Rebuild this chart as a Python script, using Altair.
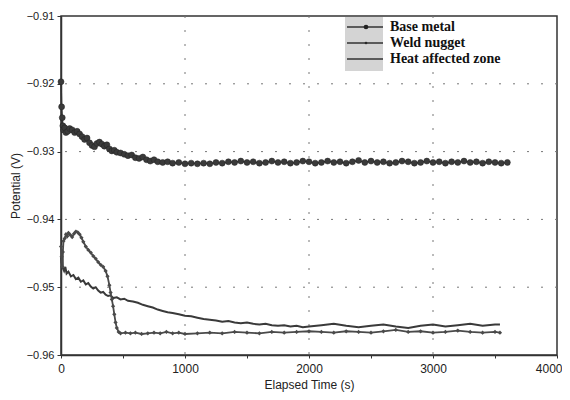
import altair as alt
import pandas as pd

# ---------------- data ----------------
series_names = ["Base metal", "Weld nugget", "Heat affected zone"]

base_t = [0, 5, 10, 15, 20, 30, 40, 55, 70, 90, 110, 130, 150, 170, 190, 210, 230, 250, 270, 290,
          310, 330, 350, 370, 390, 410, 430, 450, 480, 510, 540, 570, 600, 630, 660, 690, 720, 750,
          780, 820, 860, 900, 950, 1000, 1050, 1100, 1150, 1200, 1250, 1300, 1350, 1400, 1450, 1500,
          1550, 1600, 1650, 1700, 1750, 1800, 1850, 1900, 1950, 2000, 2050, 2100, 2150, 2200, 2250,
          2300, 2350, 2400, 2450, 2500, 2550, 2600, 2650, 2700, 2750, 2800, 2850, 2900, 2950, 3000,
          3050, 3100, 3150, 3200, 3250, 3300, 3350, 3400, 3450, 3500, 3550, 3600]
base_v = [-0.9197, -0.9234, -0.9250, -0.9262, -0.9268, -0.9265, -0.9272, -0.9270, -0.9266, -0.9268,
          -0.9272, -0.9270, -0.9274, -0.9278, -0.9282, -0.9280, -0.9287, -0.9291, -0.9293, -0.9288,
          -0.9286, -0.9289, -0.9292, -0.9290, -0.9296, -0.9299, -0.9298, -0.9301, -0.9302, -0.9304,
          -0.9306, -0.9305, -0.9309, -0.9310, -0.9308, -0.9312, -0.9314, -0.9312, -0.9315, -0.9316,
          -0.9315, -0.9317, -0.9316, -0.9318, -0.9317, -0.9318, -0.9317, -0.9318, -0.9316, -0.9317,
          -0.9315, -0.9316, -0.9314, -0.9316, -0.9315, -0.9317, -0.9316, -0.9314, -0.9316, -0.9315,
          -0.9317, -0.9316, -0.9314, -0.9315, -0.9317, -0.9316, -0.9314, -0.9316, -0.9315, -0.9317,
          -0.9315, -0.9313, -0.9316, -0.9314, -0.9316, -0.9315, -0.9317, -0.9316, -0.9314, -0.9315,
          -0.9317, -0.9316, -0.9314, -0.9316, -0.9315, -0.9317, -0.9315, -0.9316, -0.9314, -0.9316,
          -0.9315, -0.9317, -0.9315, -0.9316, -0.9317, -0.9316]

weld_t = [0, 5, 10, 15, 20, 30, 40, 50, 60, 75, 90, 105, 120, 135, 150, 165, 180, 200, 220, 240,
          260, 280, 300, 320, 340, 360, 375, 390, 400, 410, 420, 430, 440, 450, 465, 480, 520, 560,
          600, 650, 700, 750, 800, 850, 900, 950, 1000, 1100, 1200, 1300, 1400, 1500, 1600, 1700,
          1800, 1900, 2000, 2100, 2200, 2300, 2400, 2500, 2600, 2700, 2800, 2900, 3000, 3100, 3200,
          3300, 3400, 3500, 3540]
weld_v = [-0.9440, -0.9455, -0.9470, -0.9448, -0.9432, -0.9428, -0.9422, -0.9425, -0.9420, -0.9423,
          -0.9426, -0.9421, -0.9418, -0.9419, -0.9422, -0.9427, -0.9433, -0.9440, -0.9445, -0.9449,
          -0.9454, -0.9458, -0.9463, -0.9467, -0.9470, -0.9476, -0.9484, -0.9497, -0.9508, -0.9518,
          -0.9528, -0.9540, -0.9552, -0.9560, -0.9566, -0.9568, -0.9567, -0.9568, -0.9567, -0.9569,
          -0.9568, -0.9567, -0.9568, -0.9566, -0.9568, -0.9567, -0.9569, -0.9568, -0.9567, -0.9568,
          -0.9566, -0.9567, -0.9568, -0.9566, -0.9567, -0.9566, -0.9565, -0.9566, -0.9567, -0.9565,
          -0.9566, -0.9567, -0.9565, -0.9563, -0.9566, -0.9565, -0.9567, -0.9566, -0.9564, -0.9566,
          -0.9567, -0.9566, -0.9567]

haz_t = [0, 5, 10, 15, 25, 35, 45, 60, 80, 100, 120, 140, 160, 180, 200, 220, 240, 260, 280, 300,
         320, 340, 360, 380, 400, 420, 450, 480, 510, 540, 580, 620, 660, 700, 740, 780, 820, 860,
         900, 950, 1000, 1050, 1100, 1150, 1200, 1250, 1300, 1350, 1400, 1450, 1500, 1550, 1600,
         1650, 1700, 1750, 1800, 1850, 1900, 1950, 2000, 2100, 2200, 2300, 2400, 2500, 2600, 2700,
         2800, 2900, 3000, 3100, 3200, 3300, 3400, 3500, 3540]
haz_v = [-0.9455, -0.9465, -0.9448, -0.9472, -0.9476, -0.9470, -0.9480, -0.9477, -0.9484, -0.9482,
         -0.9488, -0.9486, -0.9492, -0.9490, -0.9496, -0.9494, -0.9499, -0.9502, -0.9500, -0.9505,
         -0.9508, -0.9507, -0.9511, -0.9513, -0.9512, -0.9516, -0.9515, -0.9518, -0.9517, -0.9520,
         -0.9521, -0.9523, -0.9526, -0.9528, -0.9530, -0.9533, -0.9535, -0.9537, -0.9538, -0.9540,
         -0.9542, -0.9543, -0.9545, -0.9547, -0.9548, -0.9549, -0.9551, -0.9550, -0.9552, -0.9553,
         -0.9552, -0.9554, -0.9555, -0.9554, -0.9556, -0.9557, -0.9556, -0.9558, -0.9557, -0.9559,
         -0.9558, -0.9556, -0.9554, -0.9557, -0.9559, -0.9557, -0.9555, -0.9558, -0.9560, -0.9557,
         -0.9555, -0.9558, -0.9556, -0.9554, -0.9557, -0.9555, -0.9555]

x_ticks = [0, 500, 1000, 1500, 2000, 2500, 3000, 3500, 4000]
y_ticks = [-0.96, -0.955, -0.95, -0.945, -0.94, -0.935, -0.93, -0.925, -0.92, -0.915, -0.91]
x_grid = [1000, 2000, 3000]
y_grid = [-0.92, -0.93, -0.94, -0.95]

# ---------------- chart ----------------
FONT = "Liberation Sans"
W, H = 496, 339

xs = alt.Scale(domain=[0, 4000], nice=False, zero=False)
ys = alt.Scale(domain=[-0.96, -0.91], nice=False, zero=False)

x_axis = alt.Axis(values=x_ticks, grid=False, title="Elapsed Time (s)",
                  labelExpr="datum.value % 1000 == 0 ? datum.value : ''",
                  labelAlign={"condition": {"test": "datum.value == 4000", "value": "right"}, "value": "center"},
                  labelOffset={"condition": {"test": "datum.value == 4000", "value": 5}, "value": 0},
                  labelFont=FONT, labelFontSize=12, labelColor="#222",
                  titleFont=FONT, titleFontSize=12, titleFontWeight="normal", titleColor="#222",
                  domainColor="#333", domainWidth=1.5, tickColor="#333", tickSize=3,
                  labelPadding=5, titlePadding=5, labelFlush=False)
y_axis = alt.Axis(values=y_ticks, grid=False, title="Potential (V)",
                  labelExpr="abs(datum.value*100 - round(datum.value*100)) < 0.001 ? format(datum.value, '.2f') : ''",
                  labelFont=FONT, labelFontSize=11, labelColor="#222",
                  titleFont=FONT, titleFontSize=12, titleFontWeight="normal", titleColor="#222",
                  domainColor="#333", domainWidth=1.5, tickColor="#333", tickSize=4,
                  labelPadding=3, titlePadding=4, labelFlush=False)

base_df = pd.DataFrame({"t": base_t, "v": base_v})
weld_df = pd.DataFrame({"t": weld_t, "v": weld_v})
haz_df = pd.DataFrame({"t": haz_t, "v": haz_v})

axes_layer = alt.Chart(base_df).mark_point(opacity=0).encode(
    x=alt.X("t:Q", scale=xs, axis=x_axis),
    y=alt.Y("v:Q", scale=ys, axis=y_axis),
)

gx = alt.Chart(pd.DataFrame({"t": x_grid})).mark_rule(
    color="#777", strokeWidth=1, strokeDash=[2, 12]).encode(x=alt.X("t:Q", scale=xs))
gy = alt.Chart(pd.DataFrame({"v": y_grid})).mark_rule(
    color="#777", strokeWidth=1, strokeDash=[2, 12]).encode(y=alt.Y("v:Q", scale=ys))

def enc(ch):
    return ch.encode(x=alt.X("t:Q", scale=xs), y=alt.Y("v:Q", scale=ys))

haz_line = enc(alt.Chart(haz_df).mark_line(color="#3a3a3a", strokeWidth=2))
weld_line = enc(alt.Chart(weld_df).mark_line(color="#4a4a4a", strokeWidth=1.8))
weld_pts = enc(alt.Chart(weld_df).mark_point(shape="diamond", filled=True, size=18, color="#4a4a4a", opacity=1))
base_line = enc(alt.Chart(base_df).mark_line(color="#333", strokeWidth=1.5))
base_pts = enc(alt.Chart(base_df).mark_point(shape="circle", filled=True, size=36, color="#3a3a3a",
                                             stroke="#222", strokeWidth=0.5, opacity=1))

# legend (positions in pixels of the plot area)
one = pd.DataFrame({"a": [0]})
leg_layers = [
    alt.Chart(one).mark_rect(color="#d4d4d4").encode(
        x=alt.value(284), x2=alt.value(322), y=alt.value(1), y2=alt.value(55))
]
row_y = [11, 27, 43]
marks = [("circle", 22), ("diamond", 10), (None, 0)]
for name, yy, (shp, sz) in zip(series_names, row_y, marks):
    leg_layers.append(alt.Chart(one).mark_rule(color="#333", strokeWidth=1.3).encode(
        x=alt.value(286), x2=alt.value(322), y=alt.value(yy)))
    if shp:
        leg_layers.append(alt.Chart(one).mark_point(shape=shp, filled=True, size=sz, color="#222",
                                                    opacity=1).encode(
            x=alt.value(305), y=alt.value(yy)))
    leg_layers.append(alt.Chart(pd.DataFrame({"label": [name]})).mark_text(
        align="left", baseline="middle", font="Liberation Serif", fontWeight="bold",
        fontSize=14, color="#111").encode(
        x=alt.value(329), y=alt.value(yy), text="label:N"))

chart = alt.layer(axes_layer, gx, gy, haz_line, weld_line, weld_pts, base_line, base_pts,
                  *leg_layers).properties(
    width=W, height=H,
    padding={"left": 53, "top": 8, "right": 5, "bottom": 37},
    autosize=alt.AutoSizeParams(type="none"),
    background="white",
).configure_view(stroke="#333", strokeWidth=1.5)

chart.save("out.html", embed_options={"renderer": "svg", "actions": False})
